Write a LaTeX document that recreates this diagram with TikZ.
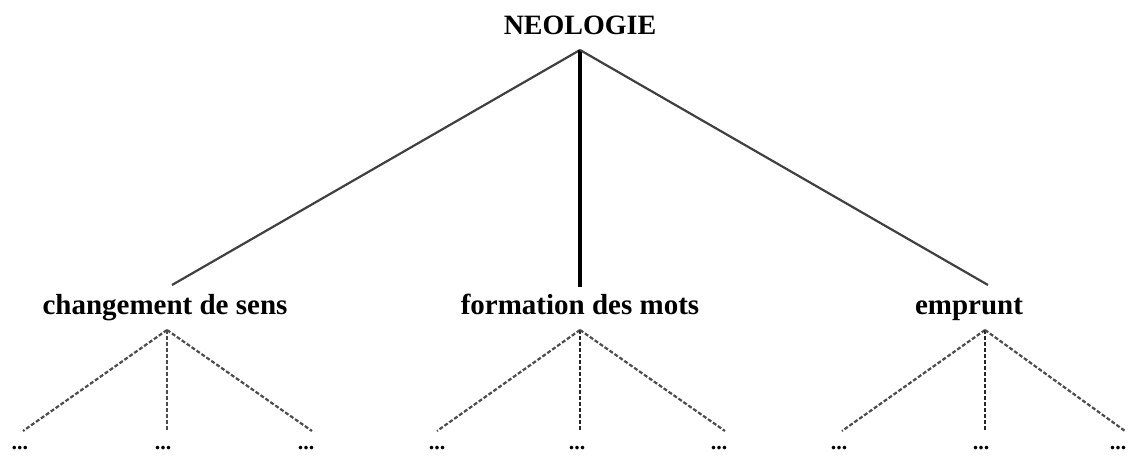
\documentclass[tikz,border=0pt]{standalone}
\usepackage{fontspec}
\setmainfont{Liberation Serif}
\begin{document}
\begin{tikzpicture}[x=1pt,y=-1pt,
  lbl/.style={inner sep=0pt,anchor=base,font=\fontsize{29}{31}\selectfont\bfseries},
  rootlbl/.style={inner sep=0pt,anchor=base,font=\fontsize{28}{30}\selectfont\bfseries},
  dots/.style={inner sep=0pt,anchor=base,font=\fontsize{22}{24}\selectfont\bfseries},
  sideline/.style={line width=2.2pt,draw=black!75},
  mainline/.style={line width=3.5pt,draw=black},
  sub/.style={line width=2.2pt,draw=black!70,dash pattern=on 4pt off 2pt},
  subdark/.style={line width=2.4pt,draw=black!85,dash pattern=on 4pt off 2pt}]
\useasboundingbox (0,0) rectangle (1134,456);
\node[rootlbl] (root) at (580,34) {NEOLOGIE};
\coordinate (r) at (580,50);
\node[lbl] (cs) at (165,314) {changement de sens};
\node[lbl] (fm) at (580,314) {formation des mots};
\node[lbl] (em) at (969,314) {emprunt};
\coordinate (csT) at (172,285);
\coordinate (fmT) at (580,287);
\coordinate (emT) at (988,285);
\draw[sideline] (r) -- (csT);
\draw[mainline] (r) -- (fmT);
\draw[sideline] (r) -- (emT);
% subtree apexes
\coordinate (a1) at (167,330);
\coordinate (a2) at (580,330);
\coordinate (a3) at (985,330);
% leaf ends
\coordinate (l11) at (23,431);
\coordinate (l12) at (167,431);
\coordinate (l13) at (312,431);
\coordinate (l21) at (437,431);
\coordinate (l22) at (580,431);
\coordinate (l23) at (725,431);
\coordinate (l31) at (842,431);
\coordinate (l32) at (985,431);
\coordinate (l33) at (1125,431);
\draw[sub] (a1) -- (l11);
\draw[sub] (a1) -- (l12);
\draw[sub] (a1) -- (l13);
\draw[sub] (a2) -- (l21);
\draw[subdark] (a2) -- (l22);
\draw[sub] (a2) -- (l23);
\draw[sub] (a3) -- (l31);
\draw[subdark] (a3) -- (l32);
\draw[sub] (a3) -- (l33);
% leaf labels
\node[dots] (d11) at (20,449) {...};
\node[dots] (d12) at (163,449) {...};
\node[dots] (d13) at (306,449) {...};
\node[dots] (d21) at (437,449) {...};
\node[dots] (d22) at (577,449) {...};
\node[dots] (d23) at (719,449) {...};
\node[dots] (d31) at (839,449) {...};
\node[dots] (d32) at (981,449) {...};
\node[dots] (d33) at (1118,449) {...};
\end{tikzpicture}
\end{document}
